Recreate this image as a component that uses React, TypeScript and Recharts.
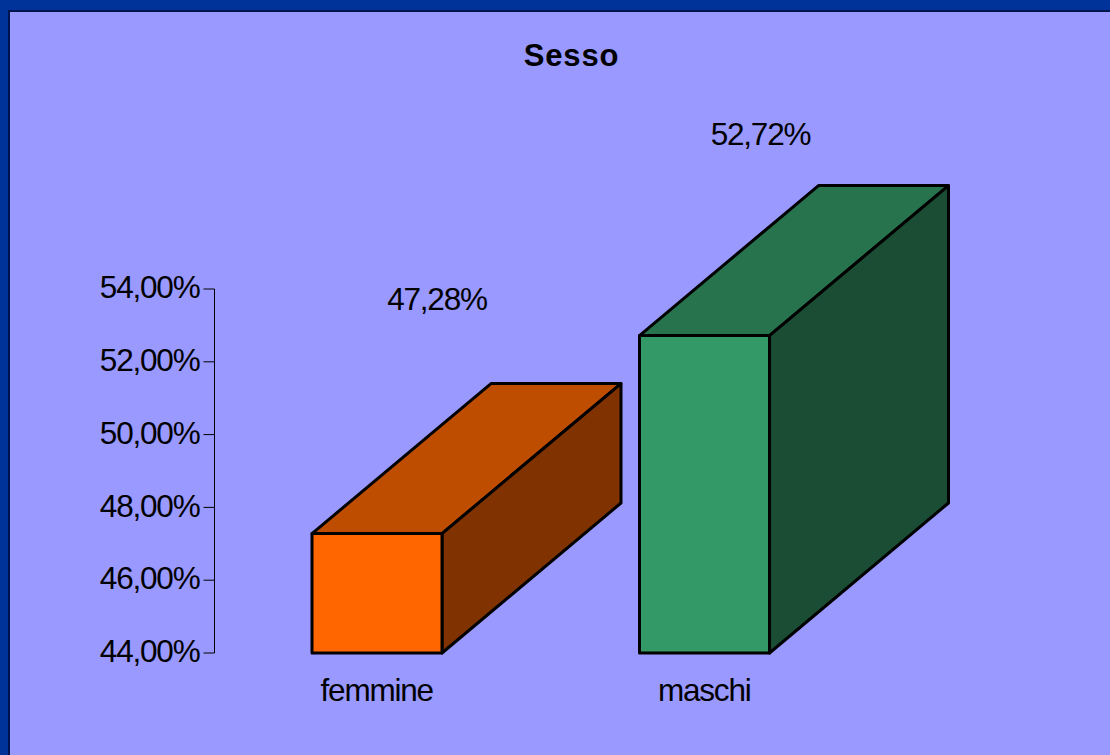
import { BarChart, Bar, Cell, XAxis, YAxis, LabelList } from "recharts";

const categories = ["femmine", "maschi"];
const shares = [47.28, 52.72];
const barColors = ["#ff6600", "#339966"];
const yTicks = [44, 46, 48, 50, 52, 54];

const data = categories.map((name, i) => ({ name, share: shares[i] }));

const FONT = "'Liberation Sans', Arial, sans-serif";
const DEPTH_X = 179;
const DEPTH_Y = 150;
const TEXT_SIZE = 31.5;
const TEXT_SPACING = -1.2;

const fmt = (v: number) => v.toFixed(2).replace(".", ",") + "%";

// same hue, just darker, for the top and side faces
function shade(hex: string, k: number) {
  const n = parseInt(hex.slice(1), 16);
  const c = [(n >> 16) & 255, (n >> 8) & 255, n & 255].map((v) => Math.round(v * k));
  return `rgb(${c[0]},${c[1]},${c[2]})`;
}

function Box3D(props: any) {
  const { x, y, width, height, fill } = props;
  const r = x + width;
  const b = y + height;
  const sw = 3;
  return (
    <g stroke="#000" strokeWidth={sw} strokeLinejoin="round">
      <polygon
        points={`${x},${y} ${x + DEPTH_X},${y - DEPTH_Y} ${r + DEPTH_X},${y - DEPTH_Y} ${r},${y}`}
        fill={shade(fill, 0.75)}
      />
      <polygon
        points={`${r},${y} ${r + DEPTH_X},${y - DEPTH_Y} ${r + DEPTH_X},${b - DEPTH_Y} ${r},${b}`}
        fill={shade(fill, 0.5)}
      />
      <rect x={x} y={y} width={width} height={height} fill={fill} />
    </g>
  );
}

// labels float above the back edge of each box, not the front
function ValueLabel(props: any) {
  const { x, y, width, index, value } = props;
  const rise = index === 0 ? 233 : 200;
  const shift = index === 0 ? 60 : 56;
  return (
    <text
      x={x + width / 2 + shift}
      y={y - rise + 9}
      textAnchor="middle"
      fontSize={TEXT_SIZE}
      letterSpacing={TEXT_SPACING}
      fontFamily={FONT}
      fill="#000"
    >
      {fmt(value)}
    </text>
  );
}

export default function App() {
  return (
    <div style={{ position: "absolute", left: 0, top: 0, width: 1110, height: 755, background: "#003399", overflow: "hidden" }}>
      <div
        style={{
          position: "absolute",
          left: 8,
          top: 10,
          width: 1102,
          height: 745,
          boxSizing: "border-box",
          background: "#9999ff",
          borderLeft: "2px solid #00144d",
          borderTop: "2px solid #00144d",
        }}
      />
      <div
        style={{
          position: "absolute",
          left: 0,
          width: 1143,
          top: 38,
          textAlign: "center",
          font: `bold 31px ${FONT}`,
          letterSpacing: 0.8,
          color: "#000",
        }}
      >
        Sesso
      </div>
      <div style={{ position: "absolute", left: 0, top: 0 }}>
        <BarChart
          width={1110}
          height={755}
          data={data}
          margin={{ top: 289, right: 242, bottom: 0, left: 0 }}
          barSize={130}
        >
          <XAxis
            dataKey="name"
            axisLine={false}
            tickLine={false}
            tickMargin={20}
            height={102}
            padding={{ left: -1.5, right: 0 }}
            tick={{ fontSize: TEXT_SIZE, letterSpacing: TEXT_SPACING, fontFamily: FONT, fill: "#000" }}
            interval={0}
          />
          <YAxis
            width={214.5}
            domain={[44, 54]}
            ticks={yTicks}
            tickFormatter={fmt}
            stroke="#000"
            tickSize={11}
            tickMargin={4}
            tick={{ fontSize: TEXT_SIZE, letterSpacing: TEXT_SPACING, dy: -2, fontFamily: FONT, fill: "#000" }}
          />
          <Bar dataKey="share" shape={<Box3D />} isAnimationActive={false}>
            {data.map((d, i) => (
              <Cell key={d.name} fill={barColors[i]} />
            ))}
            <LabelList dataKey="share" content={<ValueLabel />} />
          </Bar>
        </BarChart>
      </div>
    </div>
  );
}
